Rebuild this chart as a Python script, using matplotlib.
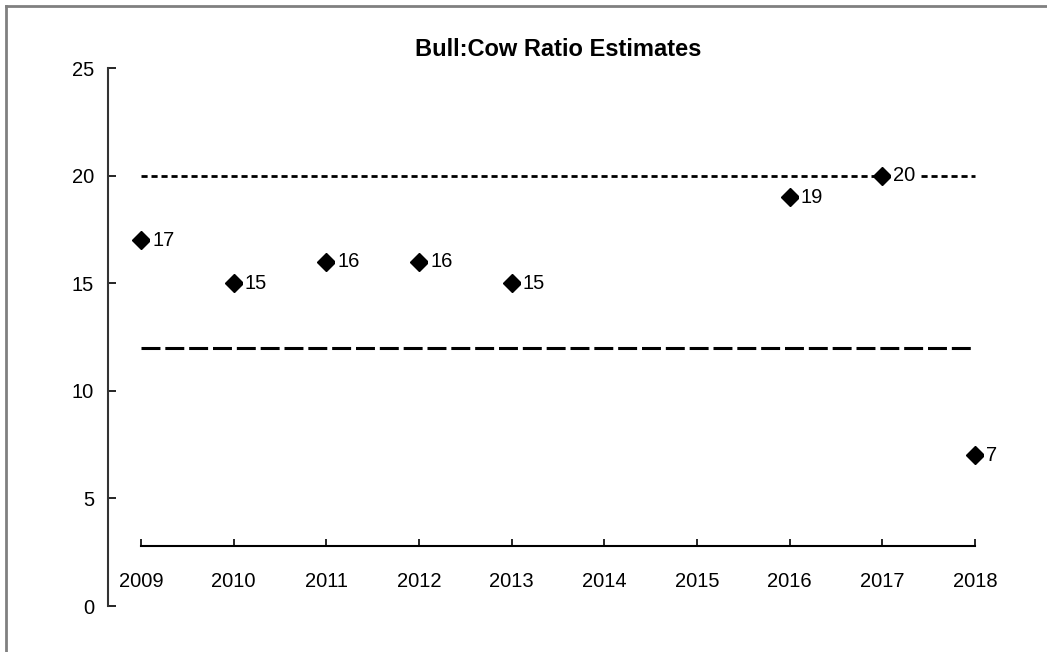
import matplotlib.pyplot as plt
import numpy as np
from matplotlib.lines import Line2D

plt.rcParams['font.family'] = ['Liberation Sans', 'DejaVu Sans']

years = ['2009', '2010', '2011', '2012', '2013', '2014', '2015', '2016', '2017', '2018']
ratios = [17, 15, 16, 16, 15, None, None, 19, 20, 7]
upper_goal = 20
lower_goal = 12

x = np.arange(len(years))
y = np.array([np.nan if r is None else r for r in ratios], dtype=float)

fig = plt.figure(figsize=(10.47, 6.52), dpi=100)
ax = fig.add_axes([108 / 1047, 1 - 606 / 652, (1010 - 108) / 1047, (606 - 68) / 652])

# objective lines
ax.plot(x, [upper_goal] * len(x), color='black', lw=2, linestyle=(0, (2.2, 1.4)), zorder=1)
ax.plot(x, [lower_goal] * len(x), color='black', lw=2.2, linestyle=(0, (6.2, 1.6)), zorder=1)

ax.plot(x, y, linestyle='none', marker='D', markersize=9, color='black', zorder=3)
for xi, yi in zip(x, y):
    if not np.isnan(yi):
        ax.annotate(f'{yi:.0f}', (xi, yi), xytext=(8, 0), textcoords='offset points',
                    ha='left', va='center', fontsize=14.5, zorder=4,
                    bbox=dict(facecolor='white', edgecolor='none', pad=1.5))

ax.set_xlim(-(141 - 108) / 92.67, (1010 - 141) / 92.67)
ax.set_ylim(0, 25)
ax.set_yticks([0, 5, 10, 15, 20, 25])
ax.set_xticks(x)
ax.set_xticklabels(years)

for s in ['top', 'right']:
    ax.spines[s].set_visible(False)
ax.spines['left'].set_linewidth(1.5)
ax.spines['left'].set_color('#333333')
ax.spines['bottom'].set_position(('data', 2.79))
ax.spines['bottom'].set_bounds(0, len(x) - 1)
ax.spines['bottom'].set_linewidth(1.5)

ax.tick_params(axis='y', direction='in', length=6, width=1.2, pad=10, labelsize=14.5)
ax.tick_params(axis='x', direction='in', length=5, width=1.2, pad=19, labelsize=14.5)

fig.text(558 / 1047, 1 - 50 / 652, 'Bull:Cow Ratio Estimates', ha='center', va='center',
         fontsize=17, fontweight='bold')

# outer chart frame (top and left edges only visible)
fig.add_artist(Line2D([6 / 1047, 1], [1 - 6 / 652, 1 - 6 / 652], color='#808080', lw=2,
                      transform=fig.transFigure))
fig.add_artist(Line2D([6 / 1047, 6 / 1047], [0, 1 - 6 / 652], color='#808080', lw=2,
                      transform=fig.transFigure))

fig.savefig('out.png', dpi=100)
